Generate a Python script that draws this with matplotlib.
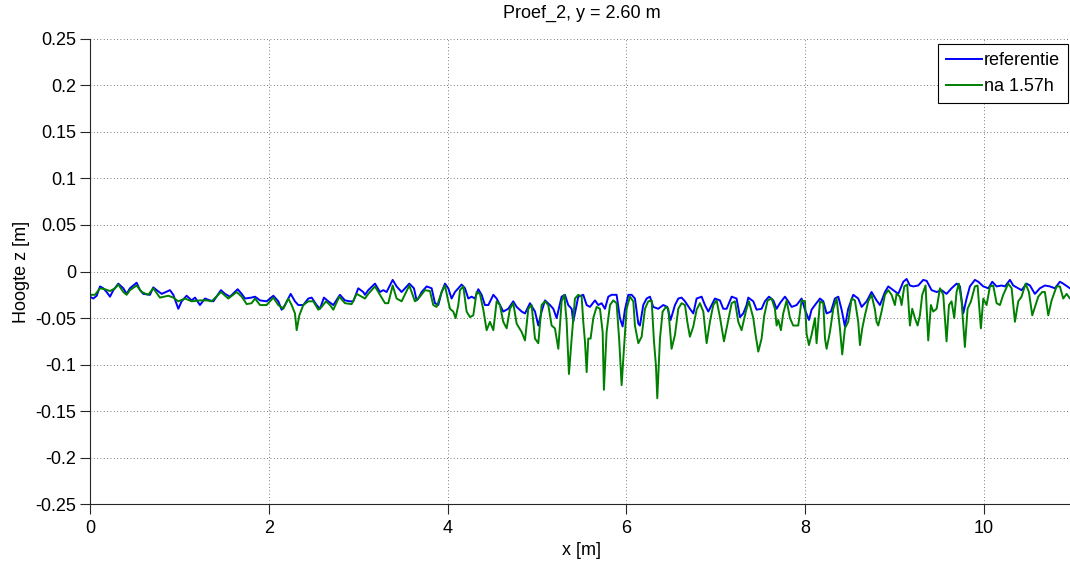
import matplotlib
matplotlib.use("Agg")
import matplotlib.pyplot as plt

plt.rcParams["font.family"] = ["Liberation Sans", "DejaVu Sans"]

# Bed profile along the flume, before the test (referentie)
ref_x = [
    0.000, 0.037, 0.075, 0.112, 0.149, 0.186, 0.224, 0.261, 0.317, 0.373, 0.410, 0.447, 0.522,
    0.559, 0.597, 0.671, 0.708, 0.746, 0.802, 0.895, 0.932, 0.988, 1.025, 1.081, 1.137, 1.175,
    1.230, 1.286, 1.342, 1.380, 1.465, 1.510, 1.566, 1.652, 1.697, 1.734, 1.808,
    1.846, 1.902, 1.976, 2.051, 2.107, 2.144, 2.181, 2.245, 2.293, 2.330, 2.386, 2.442, 2.480,
    2.535, 2.573, 2.617, 2.666, 2.722, 2.796, 2.852, 2.908, 2.946, 3.001, 3.057, 3.076, 3.113,
    3.188, 3.244, 3.281, 3.318, 3.386, 3.430, 3.486, 3.572, 3.624, 3.654,
    3.673, 3.710, 3.766, 3.822, 3.859, 3.896, 3.934, 3.971, 4.008, 4.045, 4.083, 4.157, 4.195,
    4.232, 4.269, 4.306, 4.344, 4.381, 4.418, 4.456, 4.512, 4.549, 4.586, 4.623, 4.679, 4.735,
    4.773, 4.829, 4.866, 4.922, 4.978, 5.015, 5.052, 5.090, 5.146, 5.183, 5.220, 5.276, 5.313,
    5.350, 5.388, 5.406, 5.462, 5.518,
    5.556, 5.593, 5.649, 5.686, 5.723, 5.761, 5.798, 5.835, 5.891, 5.928, 5.958, 5.984, 6.022,
    6.059, 6.096, 6.134, 6.152, 6.189, 6.227, 6.264, 6.301, 6.357, 6.413, 6.458, 6.495, 6.544,
    6.581, 6.618, 6.656, 6.711, 6.749, 6.786, 6.842, 6.879, 6.917, 6.954, 6.991, 7.047, 7.084,
    7.122, 7.178, 7.233, 7.271, 7.308, 7.345,
    7.364, 7.420, 7.457, 7.513, 7.550, 7.595, 7.644, 7.681, 7.718, 7.774, 7.811, 7.849, 7.905,
    7.960, 7.998, 8.043, 8.072, 8.110, 8.166, 8.203, 8.240, 8.289, 8.333, 8.371, 8.408, 8.445,
    8.482, 8.538, 8.594, 8.632, 8.688, 8.743, 8.799, 8.837, 8.893, 8.930, 8.986, 9.042, 9.098,
    9.135, 9.172,
    9.210, 9.265, 9.321, 9.359, 9.415, 9.471, 9.526, 9.582, 9.638, 9.694, 9.732, 9.769, 9.806,
    9.843, 9.899, 9.937, 9.993, 10.049, 10.093, 10.142, 10.198, 10.235, 10.291, 10.328, 10.384,
    10.421, 10.477, 10.515, 10.570, 10.626, 10.682, 10.738, 10.794, 10.850, 10.887, 10.962, 11.000,
]
ref_z = [
    -0.027, -0.029, -0.026, -0.016, -0.018, -0.022, -0.027, -0.020, -0.013, -0.018, -0.024, -0.018, -0.012,
    -0.020, -0.024, -0.025, -0.017, -0.020, -0.024, -0.020, -0.025, -0.040, -0.032, -0.026, -0.031, -0.028,
    -0.036, -0.029, -0.031, -0.032, -0.020, -0.024, -0.027, -0.019, -0.024, -0.029, -0.028,
    -0.027, -0.031, -0.032, -0.026, -0.032, -0.041, -0.036, -0.024, -0.032, -0.036, -0.036, -0.029, -0.028,
    -0.036, -0.040, -0.028, -0.032, -0.036, -0.025, -0.031, -0.032, -0.032, -0.018, -0.022, -0.025, -0.020,
    -0.013, -0.022, -0.020, -0.022, -0.009, -0.016, -0.022, -0.013, -0.018, -0.031,
    -0.029, -0.022, -0.016, -0.018, -0.034, -0.036, -0.022, -0.013, -0.018, -0.029, -0.022, -0.014, -0.018,
    -0.029, -0.027, -0.029, -0.019, -0.025, -0.036, -0.036, -0.025, -0.029, -0.036, -0.043, -0.040, -0.032,
    -0.038, -0.043, -0.045, -0.034, -0.043, -0.058, -0.043, -0.031, -0.036, -0.040, -0.050, -0.027, -0.025,
    -0.036, -0.040, -0.054, -0.027, -0.025,
    -0.036, -0.038, -0.031, -0.036, -0.034, -0.040, -0.027, -0.025, -0.025, -0.050, -0.059, -0.041, -0.025,
    -0.025, -0.029, -0.056, -0.058, -0.036, -0.029, -0.027, -0.038, -0.040, -0.036, -0.038, -0.052, -0.036,
    -0.029, -0.028, -0.032, -0.040, -0.045, -0.029, -0.027, -0.036, -0.043, -0.036, -0.029, -0.031, -0.040,
    -0.040, -0.027, -0.029, -0.049, -0.045, -0.036,
    -0.028, -0.032, -0.041, -0.040, -0.032, -0.027, -0.031, -0.040, -0.034, -0.027, -0.032, -0.038, -0.036,
    -0.029, -0.041, -0.052, -0.041, -0.036, -0.029, -0.032, -0.045, -0.043, -0.029, -0.027, -0.041, -0.059,
    -0.040, -0.025, -0.029, -0.038, -0.032, -0.022, -0.031, -0.036, -0.022, -0.016, -0.020, -0.024, -0.011,
    -0.008, -0.015,
    -0.016, -0.015, -0.009, -0.010, -0.020, -0.022, -0.020, -0.024, -0.018, -0.013, -0.016, -0.045, -0.029,
    -0.016, -0.009, -0.011, -0.016, -0.018, -0.011, -0.016, -0.015, -0.016, -0.009, -0.015, -0.018,
    -0.020, -0.013, -0.015, -0.024, -0.018, -0.015, -0.016, -0.018, -0.011, -0.013, -0.018, -0.018,
]

# Bed profile after 1.57 hours of loading
na_x = [
    0.000, 0.056, 0.112, 0.168, 0.224, 0.280, 0.317, 0.373, 0.410, 0.447, 0.522, 0.578, 0.652,
    0.708, 0.783, 0.876, 0.932, 0.988, 1.063, 1.137, 1.230, 1.305, 1.361, 1.465, 1.547, 1.641,
    1.697, 1.753, 1.808,
    1.846, 1.902, 1.976, 2.051, 2.107, 2.163, 2.218, 2.256, 2.293, 2.312, 2.342, 2.386, 2.442,
    2.498, 2.554, 2.591, 2.640, 2.685, 2.722, 2.789, 2.852, 2.927, 2.983, 3.039, 3.076, 3.113,
    3.188, 3.244, 3.300, 3.337, 3.386, 3.430, 3.486, 3.572, 3.635,
    3.691, 3.747, 3.803, 3.840, 3.878, 3.934, 3.971, 4.008, 4.027, 4.064, 4.090, 4.120, 4.139,
    4.176, 4.213, 4.251, 4.288, 4.325, 4.362, 4.400, 4.437, 4.474, 4.512, 4.549, 4.586, 4.623,
    4.661, 4.698, 4.735, 4.773, 4.829, 4.866, 4.903, 4.940, 4.978, 5.015, 5.052, 5.090, 5.127,
    5.164, 5.201, 5.239, 5.276, 5.306, 5.332, 5.358, 5.388, 5.425, 5.462, 5.500,
    5.518, 5.537, 5.556, 5.574, 5.600, 5.630, 5.667, 5.705, 5.735, 5.749, 5.779, 5.817, 5.854,
    5.891, 5.921, 5.947, 5.973, 6.003, 6.040, 6.078, 6.096, 6.134, 6.171, 6.208, 6.245, 6.283,
    6.309, 6.331, 6.346, 6.376, 6.406, 6.443, 6.469, 6.506, 6.544, 6.581, 6.618, 6.656, 6.682,
    6.711, 6.749, 6.786, 6.823, 6.861, 6.898, 6.935, 6.972, 7.010, 7.047, 7.092, 7.140, 7.178,
    7.215, 7.252, 7.289, 7.327, 7.345,
    7.371, 7.420, 7.446, 7.476, 7.513, 7.543, 7.580, 7.625, 7.662, 7.681, 7.700, 7.729, 7.755,
    7.793, 7.830, 7.867, 7.923, 7.960, 7.998, 8.016, 8.043, 8.072, 8.110, 8.128, 8.166, 8.203,
    8.222, 8.240, 8.277, 8.315, 8.352, 8.389, 8.415, 8.445, 8.482, 8.520, 8.557, 8.594, 8.613,
    8.639, 8.669, 8.706, 8.743, 8.781, 8.799, 8.818, 8.855, 8.893, 8.930, 8.967, 9.004, 9.023,
    9.060, 9.079, 9.109, 9.142,
    9.172, 9.198, 9.228, 9.258, 9.284, 9.310, 9.347, 9.377, 9.407, 9.433, 9.471, 9.508, 9.545,
    9.582, 9.609, 9.638, 9.668, 9.694, 9.720, 9.750, 9.787, 9.817, 9.855, 9.899, 9.929, 9.966,
    9.993, 10.030, 10.067, 10.104, 10.142, 10.179, 10.216, 10.272, 10.310, 10.347, 10.384,
    10.421, 10.466, 10.503, 10.541, 10.578, 10.608, 10.652, 10.682, 10.720, 10.757, 10.813,
    10.850, 10.887, 10.925, 10.962, 11.000,
]
na_z = [
    -0.025, -0.025, -0.018, -0.019, -0.021, -0.018, -0.014, -0.022, -0.025, -0.020, -0.015, -0.022, -0.025,
    -0.018, -0.028, -0.026, -0.028, -0.032, -0.029, -0.032, -0.031, -0.031, -0.032, -0.022, -0.029, -0.022,
    -0.027, -0.035, -0.034,
    -0.029, -0.036, -0.036, -0.028, -0.036, -0.040, -0.029, -0.036, -0.045, -0.063, -0.047, -0.036, -0.032,
    -0.032, -0.041, -0.038, -0.032, -0.036, -0.041, -0.027, -0.034, -0.035, -0.024, -0.027, -0.029, -0.024,
    -0.016, -0.025, -0.034, -0.034, -0.015, -0.029, -0.032, -0.015, -0.032,
    -0.027, -0.020, -0.021, -0.036, -0.038, -0.022, -0.015, -0.032, -0.040, -0.043, -0.050, -0.036, -0.020,
    -0.016, -0.043, -0.049, -0.047, -0.022, -0.024, -0.041, -0.063, -0.054, -0.063, -0.032, -0.036, -0.054,
    -0.061, -0.040, -0.034, -0.056, -0.065, -0.074, -0.040, -0.036, -0.072, -0.077, -0.036, -0.032, -0.036,
    -0.058, -0.061, -0.083, -0.032, -0.025, -0.054, -0.110, -0.072, -0.029, -0.025, -0.027,
    -0.054, -0.075, -0.108, -0.072, -0.072, -0.050, -0.038, -0.040, -0.065, -0.127, -0.065, -0.036, -0.031,
    -0.034, -0.075, -0.122, -0.083, -0.040, -0.027, -0.032, -0.058, -0.077, -0.070, -0.040, -0.032, -0.031,
    -0.075, -0.101, -0.136, -0.072, -0.043, -0.038, -0.040, -0.083, -0.068, -0.040, -0.034, -0.036, -0.054,
    -0.070, -0.059, -0.041, -0.034, -0.043, -0.077, -0.054, -0.036, -0.031, -0.049, -0.075, -0.052, -0.034,
    -0.032, -0.054, -0.063, -0.047, -0.040,
    -0.032, -0.050, -0.068, -0.086, -0.072, -0.047, -0.031, -0.029, -0.040, -0.058, -0.052, -0.063, -0.045,
    -0.031, -0.050, -0.058, -0.058, -0.031, -0.032, -0.067, -0.079, -0.068, -0.050, -0.077, -0.032, -0.034,
    -0.072, -0.083, -0.065, -0.040, -0.029, -0.061, -0.089, -0.061, -0.054, -0.029, -0.031, -0.054, -0.079,
    -0.061, -0.047, -0.032, -0.025, -0.041, -0.054, -0.058, -0.043, -0.025, -0.020, -0.025, -0.036, -0.024,
    -0.027, -0.036, -0.016, -0.014,
    -0.058, -0.040, -0.050, -0.058, -0.047, -0.025, -0.015, -0.074, -0.036, -0.043, -0.040, -0.018, -0.025,
    -0.075, -0.036, -0.032, -0.050, -0.022, -0.013, -0.032, -0.081, -0.040, -0.032, -0.016, -0.015, -0.061,
    -0.029, -0.036, -0.016, -0.015, -0.034, -0.036, -0.025, -0.013, -0.018, -0.054, -0.032,
    -0.027, -0.013, -0.022, -0.047, -0.036, -0.027, -0.022, -0.022, -0.047, -0.031, -0.016,
    -0.016, -0.029, -0.024, -0.029, -0.027,
]

series_labels = ["referentie", "na 1.57h"]
x_ticks = [0, 2, 4, 6, 8, 10]
y_ticks = [-0.25, -0.2, -0.15, -0.1, -0.05, 0, 0.05, 0.1, 0.15, 0.2, 0.25]
y_ticklabels = ["-0.25", "-0.2", "-0.15", "-0.1", "-0.05", "0", "0.05", "0.1", "0.15", "0.2", "0.25"]

FS = 13

fig = plt.figure(figsize=(10.70, 5.61), dpi=100)
ax = fig.add_axes([0.0841, 0.101, 0.919, 0.830])

ax.plot(ref_x, ref_z, color="#0000ff", lw=1.4, label=series_labels[0])
ax.plot(na_x, na_z, color="#008000", lw=1.4, label=series_labels[1])

ax.set_xlim(0, 11)
ax.set_ylim(-0.25, 0.25)
ax.set_xticks(x_ticks)
ax.set_yticks(y_ticks)
ax.set_yticklabels(y_ticklabels)

axis_color = "#262626"
for side in ("top", "right"):
    ax.spines[side].set_visible(False)
for side in ("left", "bottom"):
    ax.spines[side].set_color(axis_color)
    ax.spines[side].set_linewidth(0.8)
ax.tick_params(direction="out", length=7, width=0.8, colors=axis_color,
               labelsize=FS, labelcolor="#000000")
ax.tick_params(axis="y", pad=3)
ax.tick_params(axis="x", pad=4)

ax.grid(True, linestyle=(0, (1, 3)), color="#000000", linewidth=0.6, alpha=0.7)

ax.set_title("Proef_2, y = 2.60 m", fontsize=FS, pad=15)
ax.set_xlabel("x [m]", fontsize=FS, labelpad=4)
ax.set_ylabel("Hoogte z [m]", fontsize=FS, labelpad=4)

leg = ax.legend(loc="upper right", bbox_to_anchor=(1.0, 1.0), fontsize=FS,
                frameon=True, fancybox=False, framealpha=1, edgecolor="#000000",
                handlelength=2.0, handletextpad=0.1, borderpad=0.45, labelspacing=0.5,
                borderaxespad=0.3)
leg.get_frame().set_linewidth(0.8)

fig.savefig("out.png", dpi=100)
